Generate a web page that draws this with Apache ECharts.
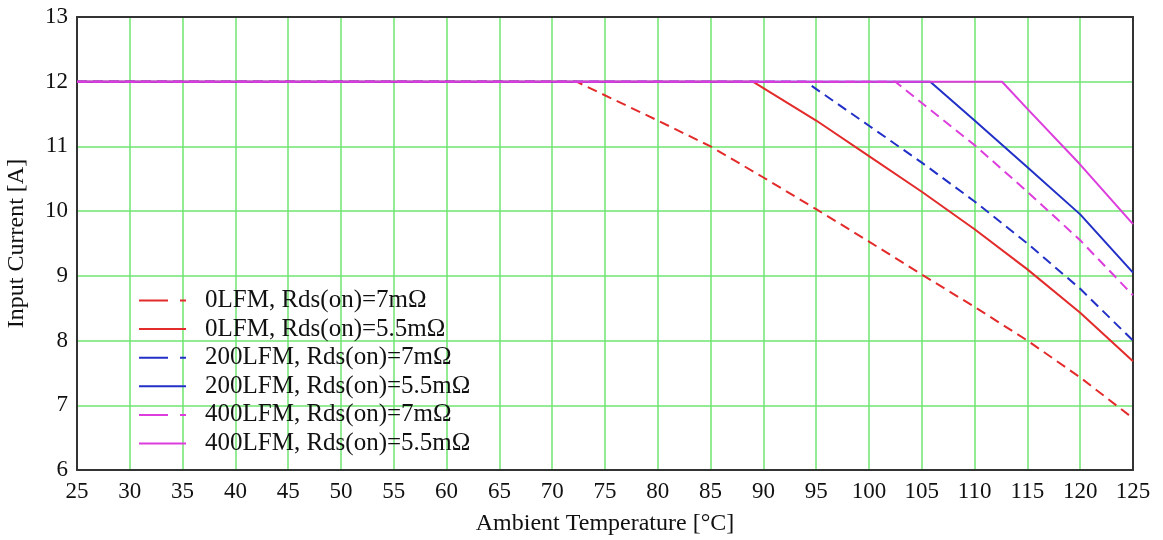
<!DOCTYPE html>
<html><head><meta charset="utf-8">
<script src="https://cdn.jsdelivr.net/npm/echarts@6/dist/echarts.min.js"></script>
<style>html,body{margin:0;padding:0;background:#fff}#c{width:1163px;height:540px}</style>
</head><body><div id="c"></div>
<script>
const xTicks = [25,30,35,40,45,50,55,60,65,70,75,80,85,90,95,100,105,110,115,120,125];
const yTicks = [6,7,8,9,10,11,12,13];
const seriesNames = [
  "0LFM, Rds(on)=7mΩ",
  "0LFM, Rds(on)=5.5mΩ",
  "200LFM, Rds(on)=7mΩ",
  "200LFM, Rds(on)=5.5mΩ",
  "400LFM, Rds(on)=7mΩ",
  "400LFM, Rds(on)=5.5mΩ"
];
const t0_7   = [25, 72.3, 80, 85, 90, 95, 100, 105, 110, 115, 120, 125];
const i0_7   = [12, 12, 11.4, 11, 10.52, 10.03, 9.53, 9.02, 8.52, 8.0, 7.43, 6.8];
const t0_55  = [25, 89, 95, 100, 105, 110, 115, 120, 125];
const i0_55  = [12, 12, 11.4, 10.85, 10.3, 9.72, 9.1, 8.43, 7.68];
const t200_7 = [25, 94, 100, 105, 110, 115, 120, 125];
const i200_7 = [12, 12, 11.32, 10.75, 10.15, 9.5, 8.8, 8.0];
const t200_55= [25, 105.8, 110, 115, 120, 125];
const i200_55= [12, 12, 11.4, 10.68, 9.95, 9.05];
const t400_7 = [25, 102.5, 105, 110, 115, 120, 125];
const i400_7 = [12, 12, 11.67, 11.02, 10.3, 9.55, 8.7];
const t400_55= [25, 112.6, 115, 120, 125];
const i400_55= [12, 12, 11.58, 10.72, 9.8];

const RED='#e32b2b', BLUE='#2230c8', MAG='#dd3ddd';
const colors=[RED,RED,BLUE,BLUE,MAG,MAG];
const dashed=[true,false,true,false,true,false];
const xs=[t0_7,t0_55,t200_7,t200_55,t400_7,t400_55];
const ys=[i0_7,i0_55,i200_7,i200_55,i400_7,i400_55];
const FONT='"Liberation Serif","DejaVu Serif",serif';

const series = seriesNames.map((n,k)=>({
  name:n, type:'line', symbol:'none', showSymbol:false, smooth:false,
  data: xs[k].map((x,j)=>[x, ys[k][j]]),
  lineStyle:{color:colors[k], width:2, type: dashed[k]?[10,6]:'solid'},
  itemStyle:{color:colors[k]},
  z: 3+k
}));

const chart = echarts.init(document.getElementById('c'));
chart.setOption({
  animation:false,
  backgroundColor:'#fff',
  grid:{left:77,right:30,top:17,bottom:70,show:false,containLabel:false,outerBoundsMode:'none'},
  legend:{
    orient:'vertical', left:133, top:283, itemWidth:47, itemHeight:14, itemGap:3.6,
    itemStyle:{color:'transparent',borderWidth:0,opacity:0},
    textStyle:{fontFamily:FONT,fontSize:25,lineHeight:24,color:'#111',padding:[0,0,0,14]},
    data: seriesNames.map((n,k)=>({name:n, itemStyle:{opacity:0}, lineStyle:{color:colors[k],width:2,type:dashed[k]?[29,12]:'solid'}}))
  },
  xAxis:[{
    type:'value', min:25, max:125, interval:5,
    name:'Ambient Temperature [°C]', nameLocation:'middle', nameGap:42,
    nameTextStyle:{fontFamily:FONT,fontSize:24,color:'#111'},
    axisLine:{show:true,lineStyle:{color:'#333',width:2}},
    axisTick:{show:false},
    axisLabel:{fontFamily:FONT,fontSize:23,color:'#111',margin:10},
    splitLine:{show:true,lineStyle:{color:'#6fe46f',width:1.5}}
  },{
    type:'value', position:'top', min:25, max:125, interval:5,
    axisLine:{show:true,onZero:false,lineStyle:{color:'#333',width:2}},
    axisTick:{show:false}, axisLabel:{show:false}, splitLine:{show:false}
  }],
  yAxis:[{
    type:'value', min:6, max:13, interval:1,
    name:'Input Current [A]', nameLocation:'middle', nameGap:48,
    nameTextStyle:{fontFamily:FONT,fontSize:24,color:'#111'},
    axisLine:{show:true,lineStyle:{color:'#333',width:2}},
    axisTick:{show:false},
    axisLabel:{fontFamily:FONT,fontSize:23,color:'#111',margin:9},
    splitLine:{show:true,lineStyle:{color:'#6fe46f',width:1.5}}
  },{
    type:'value', position:'right', min:6, max:13, interval:1,
    axisLine:{show:true,onZero:false,lineStyle:{color:'#333',width:2}},
    axisTick:{show:false}, axisLabel:{show:false}, splitLine:{show:false}
  }],
  series: series
});
</script></body></html>
